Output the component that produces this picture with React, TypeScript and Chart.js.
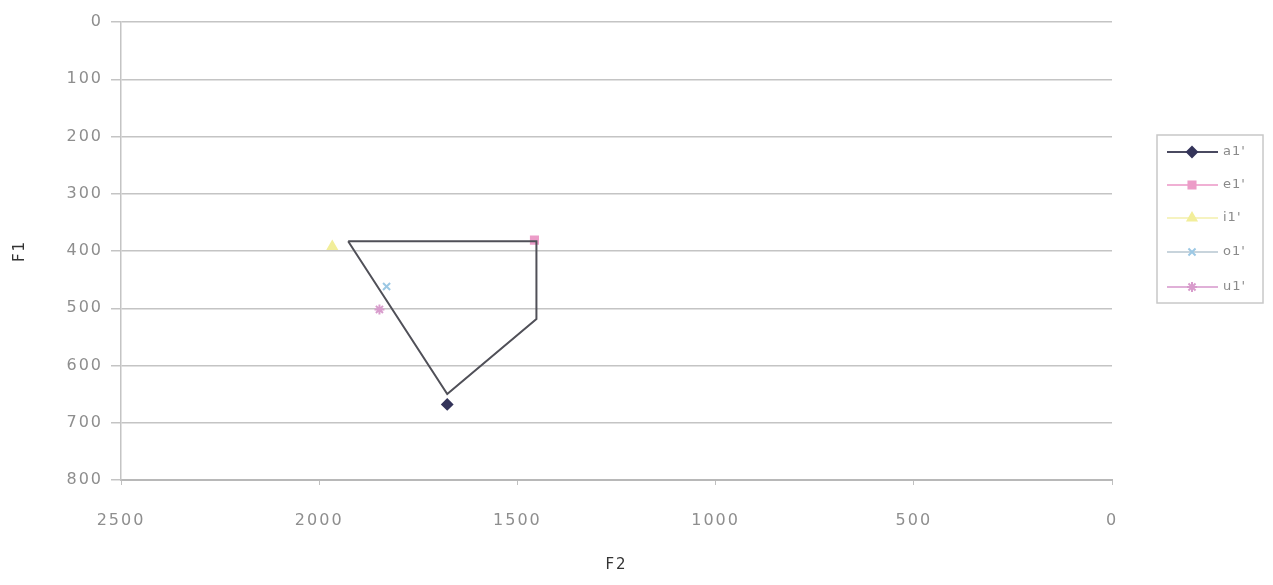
import React, { useEffect, useRef } from "react";
import { Chart, registerables } from "chart.js";
import { drawPoint } from "chart.js/helpers";

Chart.register(...registerables);

// Polygon outline (F2, F1)
const polyF2 = [1927, 1452, 1452, 1677, 1927];
const polyF1 = [383, 383, 519, 650, 383];

// Vowel series
const vowels = ["a1'", "e1'", "i1'", "o1'", "u1'"];
const vowelF2 = [1677, 1457, 1967, 1830, 1848];
const vowelF1 = [668, 381, 392, 462, 502];
const vowelColors = ["#34345a", "#ec9cc8", "#f2ee9a", "#9cc8e4", "#d89ccc"];
const vowelLineColors = ["#4a4a60", "#f0b0d4", "#f6f3c0", "#c8d4dc", "#e0b0d8"];
const vowelShapes = ["rectRot", "rect", "triangle", "crossRot", "star"];

const xTicks = [2500, 2000, 1500, 1000, 500, 0];
const yTicks = [0, 100, 200, 300, 400, 500, 600, 700, 800];

const spacingPlugin = {
  id: "spacing",
  beforeDraw(chart: any) {
    (chart.ctx as any).letterSpacing = "2px";
  },
  beforeDatasetsDraw(chart: any) {
    (chart.ctx as any).letterSpacing = "0px";
  },
};

const legendPlugin = {
  id: "boxLegend",
  afterDraw(chart: any) {
    const ctx = chart.ctx;
    ctx.save();
    (ctx as any).letterSpacing = "1px";
    const bx = 1157, by = 135, bw = 106, bh = 168;
    ctx.strokeStyle = "#c8c8c8";
    ctx.lineWidth = 1.5;
    ctx.strokeRect(bx, by, bw, bh);
    const rows = [152, 185, 218, 252, 287];
    vowels.forEach((v, i) => {
      const y = rows[i];
      ctx.strokeStyle = vowelLineColors[i];
      ctx.lineWidth = 2;
      ctx.beginPath();
      ctx.moveTo(1167, y);
      ctx.lineTo(1218, y);
      ctx.stroke();
      ctx.fillStyle = vowelColors[i];
      ctx.strokeStyle = vowelColors[i];
      ctx.lineWidth = 2;
      drawPoint(ctx, { pointStyle: vowelShapes[i], radius: 5, rotation: 0, borderWidth: 2 } as any, 1192, y);
      ctx.fillStyle = "#8a8a8a";
      ctx.font = "13px 'DejaVu Sans', sans-serif";
      ctx.textBaseline = "middle";
      ctx.textAlign = "left";
      ctx.fillText(v, 1223, y);
    });
    ctx.restore();
  },
};

export default function App() {
  const ref = useRef<HTMLCanvasElement | null>(null);
  useEffect(() => {
    document.body.style.margin = "0";
    const canvas = ref.current;
    if (!canvas) return;
    const datasets: any[] = [
      {
        label: "outline",
        data: polyF2.map((x, i) => ({ x, y: polyF1[i] })),
        showLine: true,
        borderColor: "#505058",
        borderWidth: 2,
        pointRadius: 0,
        fill: false,
      },
      ...vowels.map((v, i) => ({
        label: v,
        data: [{ x: vowelF2[i], y: vowelF1[i] }],
        showLine: false,
        pointStyle: vowelShapes[i],
        pointRadius: 5,
        pointBorderWidth: 2,
        backgroundColor: vowelColors[i],
        borderColor: vowelColors[i],
      })),
    ];
    const tickFont = { family: "'DejaVu Sans', sans-serif", size: 16 };
    const titleFont = { family: "'DejaVu Sans', sans-serif", size: 15 };
    const chart = new Chart(canvas, {
      type: "scatter",
      data: { datasets },
      options: {
        animation: false,
        responsive: false,
        layout: { padding: { left: 0, top: 22, right: 161, bottom: 0 } },
        plugins: { legend: { display: false }, tooltip: { enabled: false } },
        scales: {
          x: {
            type: "linear",
            reverse: true,
            min: 0,
            max: 2500,
            afterBuildTicks: (s: any) => {
              s.ticks = xTicks.map((value) => ({ value }));
            },
            afterFit: (s: any) => {
              s.height = 105;
            },
            ticks: { color: "#8e8e8e", font: tickFont, padding: 26, callback: (v: any) => String(v) },
            grid: { drawOnChartArea: false, drawTicks: true, tickLength: 5, color: "#c0c0c0" },
            border: { color: "#b8b8b8", width: 2 },
            title: { display: true, text: "F2", color: "#333", font: titleFont, padding: { top: 0, bottom: 11 } },
          },
          y: {
            type: "linear",
            reverse: true,
            min: 0,
            max: 800,
            afterBuildTicks: (s: any) => {
              s.ticks = yTicks.map((value) => ({ value }));
            },
            afterFit: (s: any) => {
              s.width = 121;
            },
            ticks: { color: "#8e8e8e", font: tickFont, padding: 8, callback: (v: any) => String(v) },
            grid: { color: "#c4c4c4", lineWidth: 1.5, tickLength: 10 },
            border: { color: "#c4c4c4", width: 1.5 },
            title: { display: true, text: "F1", color: "#333", font: titleFont, padding: { top: 11, bottom: 0 } },
          },
        },
      },
      plugins: [spacingPlugin, legendPlugin],
    } as any);
    return () => chart.destroy();
  }, []);
  return (
    <div style={{ width: 1273, height: 585, background: "#fff" }}>
      <canvas ref={ref} width={1273} height={585} style={{ display: "block" }} />
    </div>
  );
}
